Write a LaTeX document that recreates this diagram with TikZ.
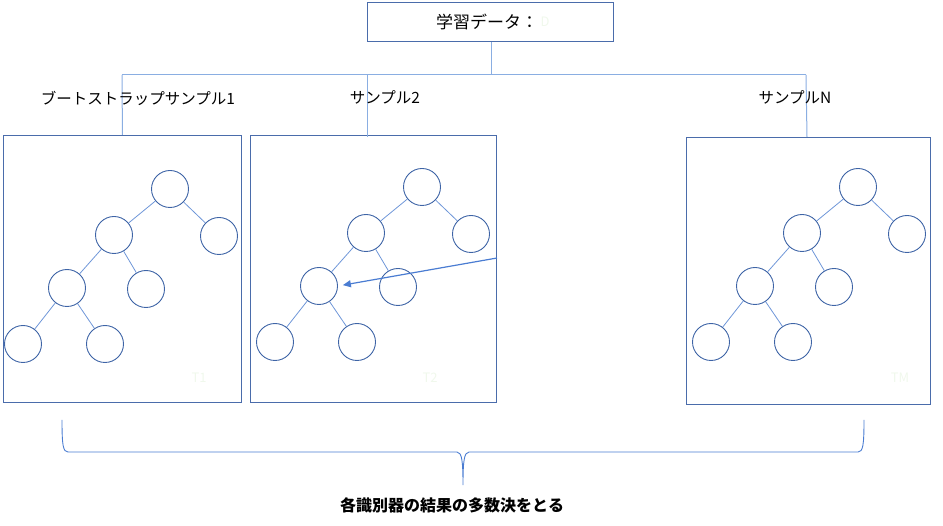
\documentclass[tikz,border=0pt]{standalone}
\usepackage{fontspec}
\setmainfont{Noto Sans CJK JP}
\usetikzlibrary{arrows.meta}
\definecolor{boxblue}{HTML}{4A6CAB}
\definecolor{circblue}{HTML}{3E64A6}
\definecolor{edgeblue}{HTML}{6E96D8}
\definecolor{linkblue}{HTML}{8AAEE2}
\definecolor{arrblue}{HTML}{4A7CD2}
\definecolor{faint}{RGB}{240,248,236}
\tikzset{
  frame/.style={draw=boxblue, line width=0.9pt},
  tnode/.style={circle, draw=circblue, line width=0.9pt, minimum size=37pt, inner sep=0pt},
  tedge/.style={draw=edgeblue, line width=0.8pt},
  link/.style={draw=linkblue, line width=1pt},
  lbl/.style={font=\fontsize{15.5}{15.5}\selectfont, inner sep=0pt},
  ghost/.style={text=faint, font=\fontsize{13}{13}\selectfont\itshape, inner sep=0pt}
}
\newcommand{\mytree}[3]{%
  \node[tnode] (#1-r)   at (#2,#3) {};
  \node[tnode] (#1-a)   at (#2-56,#3+46) {};
  \node[tnode] (#1-b)   at (#2+49,#3+47) {};
  \node[tnode] (#1-aa)  at (#2-103,#3+99) {};
  \node[tnode] (#1-ab)  at (#2-24,#3+100) {};
  \node[tnode] (#1-aaa) at (#2-147,#3+155) {};
  \node[tnode] (#1-aab) at (#2-65,#3+155) {};
  \draw[tedge] (#1-r) -- (#1-a);
  \draw[tedge] (#1-r) -- (#1-b);
  \draw[tedge] (#1-a) -- (#1-aa);
  \draw[tedge] (#1-a) -- (#1-ab);
  \draw[tedge] (#1-aa) -- (#1-aaa);
  \draw[tedge] (#1-aa) -- (#1-aab);
}
\begin{document}
\begin{tikzpicture}[x=1pt,y=-1pt]
\useasboundingbox (0,0) rectangle (943,526);
% title
\node[frame, minimum width=246pt, minimum height=39pt, anchor=north west, inner sep=0pt] (title) at (367,2) {};
\node[font=\fontsize{17}{17}\selectfont, inner sep=0pt] (ttext) at (487,22) {学習データ：};
\node[ghost, anchor=west] (tD) at (ttext.east) {\,D};
% boxes
\node[frame, minimum width=238pt, minimum height=267pt, anchor=north west, inner sep=0pt] (box1) at (3,135) {};
\node[frame, minimum width=246pt, minimum height=267pt, anchor=north west, inner sep=0pt] (box2) at (250,135) {};
\node[frame, minimum width=244pt, minimum height=267pt, anchor=north west, inner sep=0pt] (box3) at (686,137) {};
% connectors
\coordinate (hub) at (491,75);
\coordinate (hl) at (122,75);
\coordinate (hm) at (367,75);
\coordinate (hr) at (806,75);
\coordinate (m2) at (367,137);
\draw[link] (title.south -| hub) -- (hub);
\draw[link] (hl) -- (hr);
\draw[link] (hl) -- (box1.north);
\draw[link] (hm) -- (m2);
\draw[link] (hr) -- (box3.north -| 807,0);
% labels
\node[lbl] (l1) at (138,98) {ブートストラップサンプル1};
\node[lbl] (l2) at (385,97) {サンプル2};
\node[lbl] (l3) at (795,97) {サンプルN};
% trees
\mytree{t1}{170}{189}
\mytree{t2}{422}{187}
\mytree{t3}{858}{187}
% arrow
\coordinate (as) at (497,258);
\draw[draw=arrblue, line width=1.2pt, -{Triangle[length=8pt,width=7pt]}, shorten >=5pt] (as) -- (t2-aa.east);
% faint labels
\node[ghost] (g1) at (199,378) {T1};
\node[ghost] (g2) at (430,378) {T2};
\node[ghost] (g3) at (900,378) {TM};
% brace
\coordinate (bl) at (62,420);
\coordinate (br) at (864,420);
\coordinate (bt) at (463,485);
\draw[draw=arrblue, line width=0.9pt] (bl) .. controls (62,445) and (63,452) .. (68,452) -- (457,452)
  .. controls (462,452) and (463,462) .. (bt)
  .. controls (463,462) and (464,452) .. (469,452) -- (858,452)
  .. controls (863,452) and (864,445) .. (br);
\node[font=\fontsize{16}{16}\selectfont\bfseries, inner sep=0pt] (res) at (452,505) {各識別器の結果の多数決をとる};
\end{tikzpicture}
\end{document}
